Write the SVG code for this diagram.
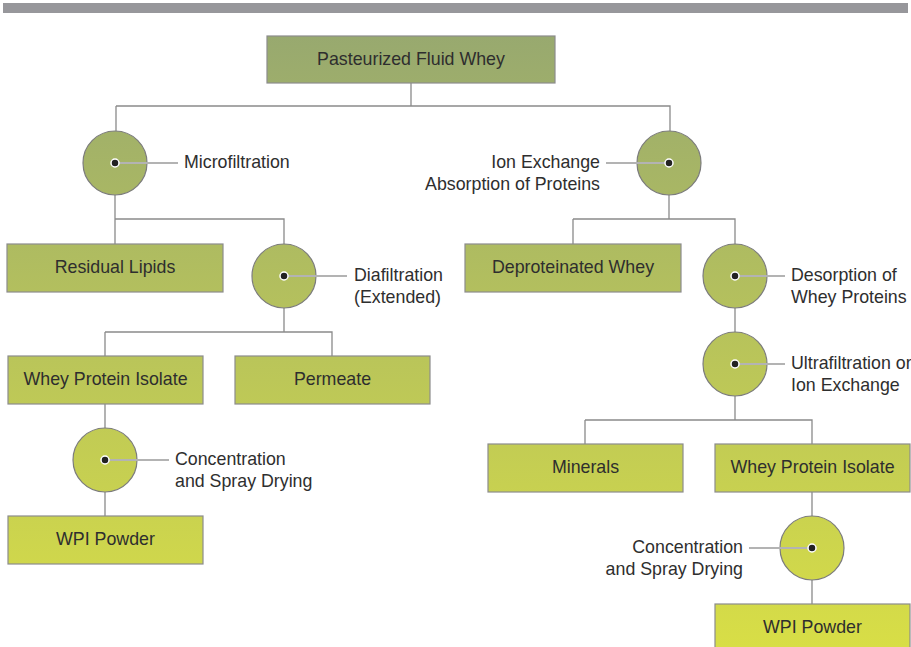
<svg xmlns="http://www.w3.org/2000/svg" width="911" height="647" viewBox="0 0 911 647">
<defs>
<linearGradient id="g" gradientUnits="userSpaceOnUse" x1="0" y1="36" x2="0" y2="647">
<stop offset="0" stop-color="#98a96f"/>
<stop offset="1" stop-color="#d8de46"/>
</linearGradient>
</defs>
<style>
.box{fill:url(#g);stroke:#8c8c8c;stroke-width:1.2}
.circ{fill:url(#g);stroke:#7c7c7c;stroke-width:1.2}
.t{font-family:"Liberation Sans",Arial,sans-serif;font-size:17.8px;fill:#2e2e2e}
.c{text-anchor:middle}
.e{text-anchor:end}
.lead{stroke:#b3b3b3;stroke-width:2;fill:none}
.dot{fill:#222;stroke:#fff;stroke-width:1.5}
.con{stroke:#8a8a8a;stroke-width:1.3;fill:none}
</style>
<rect x="3" y="3" width="905" height="10" fill="#97979b"/>
<g id="connectors">
<path class="con" d="M411 83V106M116 106H670V131M116 106V131"/>
<path class="con" d="M115 195V244M115 219H284V244"/>
<path class="con" d="M284 308V332M105 332H332V356M105 332V356"/>
<path class="con" d="M105 404V428M105 492V516"/>
<path class="con" d="M669 195V219M573 219H735V244M573 219V244"/>
<path class="con" d="M735 308V332M735 396V420M585 420H812V444M585 420V444"/>
<path class="con" d="M812 492V516M812 580V604"/>
</g>
<g id="pasteurized"><rect class="box" x="267" y="36" width="288" height="47"/><text class="t c" x="411" y="65">Pasteurized Fluid Whey</text></g>
<g id="microfiltration"><circle class="circ" cx="115" cy="163" r="32"/><path class="lead" d="M115 163H178"/><circle class="dot" cx="115" cy="163" r="4"/><text class="t" x="184" y="168">Microfiltration</text></g>
<g id="ionexchange"><circle class="circ" cx="669" cy="163" r="32"/><path class="lead" d="M606 163H669"/><circle class="dot" cx="669" cy="163" r="4"/><text class="t e" x="600" y="168">Ion Exchange</text><text class="t e" x="600" y="190">Absorption of Proteins</text></g>
<g id="residual"><rect class="box" x="7" y="244" width="216" height="48"/><text class="t c" x="115" y="273">Residual Lipids</text></g>
<g id="diafiltration"><circle class="circ" cx="284" cy="276" r="32"/><path class="lead" d="M284 276H347"/><circle class="dot" cx="284" cy="276" r="4"/><text class="t" x="354" y="281">Diafiltration</text><text class="t" x="354" y="303">(Extended)</text></g>
<g id="deproteinated"><rect class="box" x="465" y="244" width="216" height="48"/><text class="t c" x="573" y="273">Deproteinated Whey</text></g>
<g id="desorption"><circle class="circ" cx="735" cy="276" r="32"/><path class="lead" d="M735 276H785"/><circle class="dot" cx="735" cy="276" r="4"/><text class="t" x="791" y="281">Desorption of</text><text class="t" x="791" y="303">Whey Proteins</text></g>
<g id="wpi-left"><rect class="box" x="8" y="356" width="195" height="48"/><text class="t c" x="105.5" y="385">Whey Protein Isolate</text></g>
<g id="permeate"><rect class="box" x="235" y="356" width="195" height="48"/><text class="t c" x="332.5" y="385">Permeate</text></g>
<g id="ultrafiltration"><circle class="circ" cx="735" cy="364" r="32"/><path class="lead" d="M735 364H785"/><circle class="dot" cx="735" cy="364" r="4"/><text class="t" x="791" y="369">Ultrafiltration or</text><text class="t" x="791" y="391">Ion Exchange</text></g>
<g id="concentration-left"><circle class="circ" cx="105" cy="460" r="32"/><path class="lead" d="M105 460H169"/><circle class="dot" cx="105" cy="460" r="4"/><text class="t" x="175" y="465">Concentration</text><text class="t" x="175" y="487">and Spray Drying</text></g>
<g id="minerals"><rect class="box" x="488" y="444" width="195" height="48"/><text class="t c" x="585.5" y="473">Minerals</text></g>
<g id="wpi-right"><rect class="box" x="715" y="444" width="195" height="48"/><text class="t c" x="812.5" y="473">Whey Protein Isolate</text></g>
<g id="powder-left"><rect class="box" x="8" y="516" width="195" height="48"/><text class="t c" x="105.5" y="545">WPI Powder</text></g>
<g id="concentration-right"><circle class="circ" cx="812" cy="548" r="32"/><path class="lead" d="M749 548H812"/><circle class="dot" cx="812" cy="548" r="4"/><text class="t e" x="743" y="553">Concentration</text><text class="t e" x="743" y="575">and Spray Drying</text></g>
<g id="powder-right"><rect class="box" x="715" y="604" width="195" height="48"/><text class="t c" x="812.5" y="633">WPI Powder</text></g>
</svg>
